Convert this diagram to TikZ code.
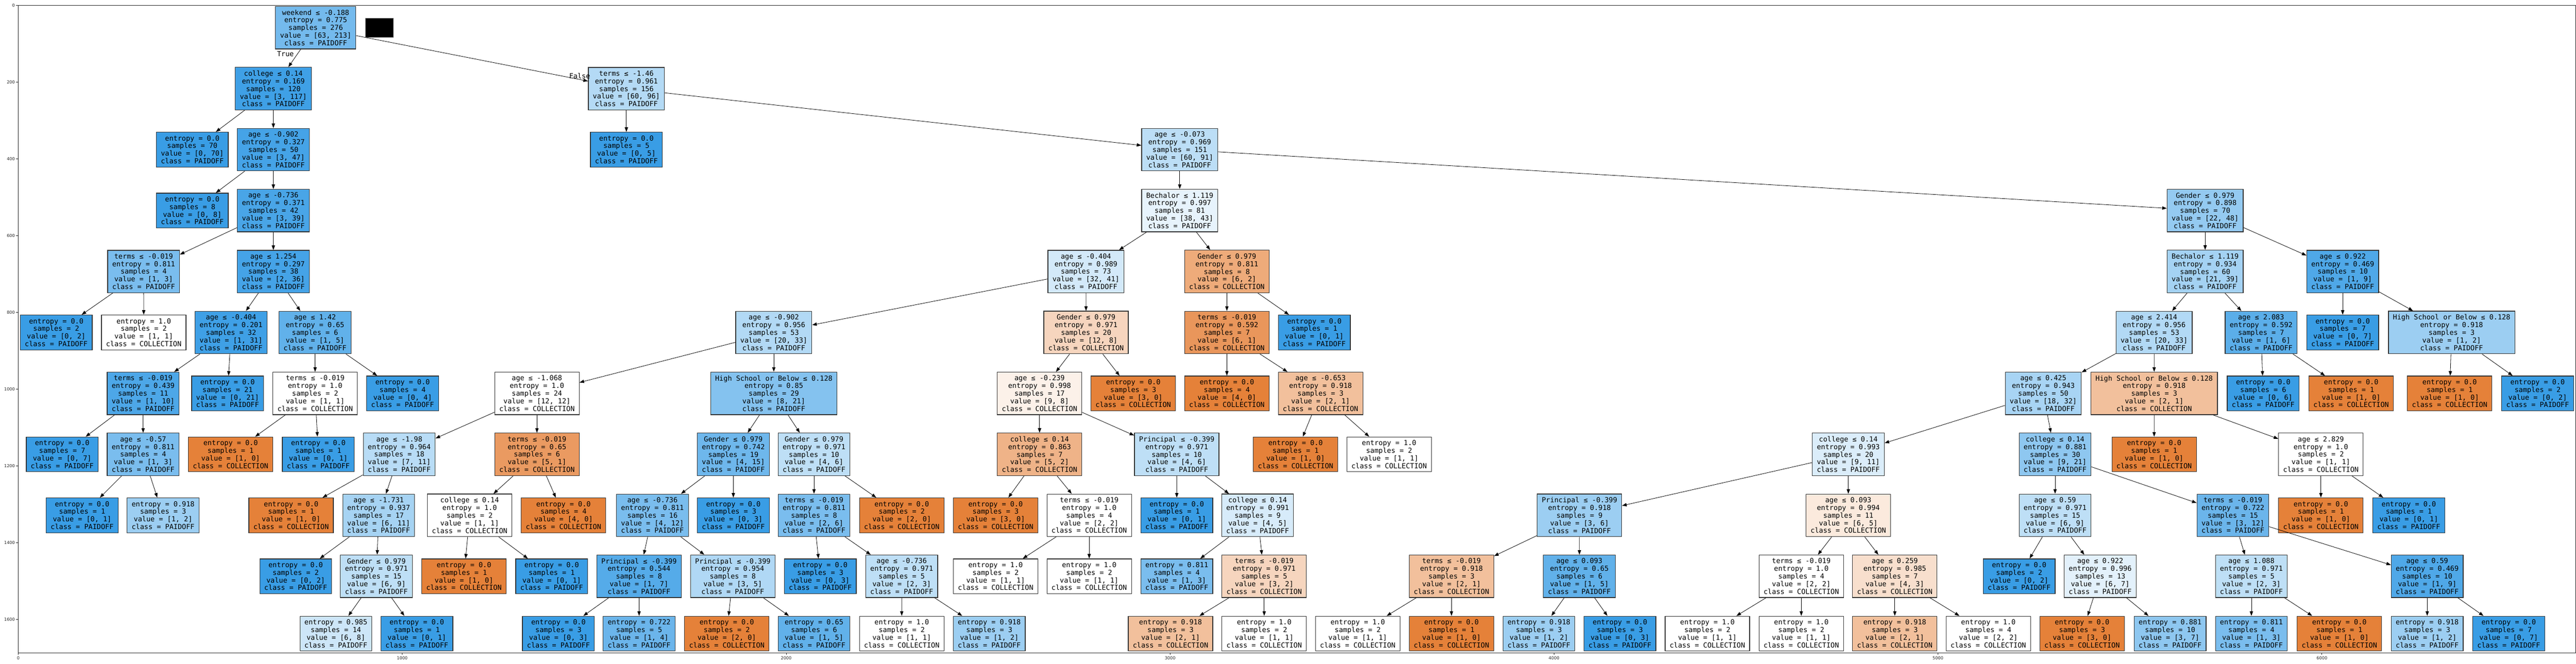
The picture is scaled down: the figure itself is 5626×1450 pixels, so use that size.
\documentclass[tikz,border=0pt]{standalone}
\usepackage{fontspec}
\setmonofont{DejaVu Sans Mono}
\setsansfont{DejaVu Sans}
\usetikzlibrary{arrows.meta}
\definecolor{paid}{RGB}{57,157,229}
\definecolor{coll}{RGB}{229,129,57}
\tikzset{
  cls/.code 2 args={%
    \ifnum#1>#2\relax
      \pgfmathtruncatemacro\tnpct{round(100*(#1-#2)/#1)}%
      \edef\tnfill{coll!\tnpct}%
    \else
      \pgfmathtruncatemacro\tnpct{round(100*(#2-#1)/#2)}%
      \edef\tnfill{paid!\tnpct}%
    \fi
    \pgfkeysalso{fill=\tnfill}}
}
\begin{document}
\begin{tikzpicture}[x=0.5pt, y=-0.5pt,
    dnode/.style={
      rectangle,
      draw=black!80,
      line width=0.7pt,
      align=center,
      font=\ttfamily\fontsize{7.6}{8.35}\selectfont,
      inner xsep=4.95pt,
      inner ysep=3.6pt},
    branch/.style={->, line width=0.45pt},
    lbl/.style={font=\ttfamily\fontsize{7.6}{8.35}\selectfont, inner sep=0pt},
    spine/.style={line width=0.5pt, black!85},
    ticklbl/.style={font=\sffamily\fontsize{4.6}{5}\selectfont, inner sep=1.2pt},
    >={Triangle[length=5pt,width=3.6pt]}
  ]
  \useasboundingbox (0,0) rectangle (5626,1450);
  % axes of the plot
  \begin{scope}[shift={(40,11.7)}, x=0.41925pt, y=-0.41925pt]
    \draw[spine] (0,0) rectangle (6660.7,1686.7);
    \foreach \v in {0,200,...,1600}
      \draw[spine] (0,\v) -- (-5.5,\v) node[ticklbl, left] (yt\v) {\v};
    \foreach \v in {0,1000,...,6000}
      \draw[spine] (\v,1686.7) -- (\v,1692.2) node[ticklbl, below] (xt\v) {\v};
  \end{scope}
  % the tree, one unit of y per depth
  \begin{scope}[shift={(0,60.5)}, y=-66.57pt]
    \node[fill=black, draw=black!60, minimum width=30.5pt, minimum height=20.5pt, inner sep=0pt] (blk) at (828.5,0) {};
    % depth 0
    \node[dnode, cls={63}{213}] (t0) at (689.5,0) {weekend ≤ -0.188\\entropy = 0.775\\samples = 276\\value = [63, 213]\\class = PAIDOFF};
    % depth 1
    \node[dnode, cls={3}{117}] (t1) at (597,1) {college ≤ 0.14\\entropy = 0.169\\samples = 120\\value = [3, 117]\\class = PAIDOFF};
    \node[dnode, cls={60}{96}] (t2) at (1368,1) {terms ≤ -1.46\\entropy = 0.961\\samples = 156\\value = [60, 96]\\class = PAIDOFF};
    % depth 2
    \node[dnode, cls={0}{70}] (t3) at (420,2) {entropy = 0.0\\samples = 70\\value = [0, 70]\\class = PAIDOFF};
    \node[dnode, cls={3}{47}] (t4) at (597,2) {age ≤ -0.902\\entropy = 0.327\\samples = 50\\value = [3, 47]\\class = PAIDOFF};
    \node[dnode, cls={0}{5}] (t5) at (1368,2) {entropy = 0.0\\samples = 5\\value = [0, 5]\\class = PAIDOFF};
    \node[dnode, cls={60}{91}] (t6) at (2576.5,2) {age ≤ -0.073\\entropy = 0.969\\samples = 151\\value = [60, 91]\\class = PAIDOFF};
    % depth 3
    \node[dnode, cls={0}{8}] (t7) at (420,3) {entropy = 0.0\\samples = 8\\value = [0, 8]\\class = PAIDOFF};
    \node[dnode, cls={3}{39}] (t8) at (597,3) {age ≤ -0.736\\entropy = 0.371\\samples = 42\\value = [3, 39]\\class = PAIDOFF};
    \node[dnode, cls={38}{43}] (t9) at (2576.5,3) {Bechalor ≤ 1.119\\entropy = 0.997\\samples = 81\\value = [38, 43]\\class = PAIDOFF};
    \node[dnode, cls={22}{48}] (t10) at (4816,3) {Gender ≤ 0.979\\entropy = 0.898\\samples = 70\\value = [22, 48]\\class = PAIDOFF};
    % depth 4
    \node[dnode, cls={1}{3}] (t11) at (313.7,4) {terms ≤ -0.019\\entropy = 0.811\\samples = 4\\value = [1, 3]\\class = PAIDOFF};
    \node[dnode, cls={2}{36}] (t12) at (597,4) {age ≤ 1.254\\entropy = 0.297\\samples = 38\\value = [2, 36]\\class = PAIDOFF};
    \node[dnode, cls={32}{41}] (t13) at (2371.7,4) {age ≤ -0.404\\entropy = 0.989\\samples = 73\\value = [32, 41]\\class = PAIDOFF};
    \node[dnode, cls={6}{2}] (t14) at (2679.5,4) {Gender ≤ 0.979\\entropy = 0.811\\samples = 8\\value = [6, 2]\\class = COLLECTION};
    \node[dnode, cls={21}{39}] (t15) at (4816,4) {Bechalor ≤ 1.119\\entropy = 0.934\\samples = 60\\value = [21, 39]\\class = PAIDOFF};
    \node[dnode, cls={1}{9}] (t16) at (5116.4,4) {age ≤ 0.922\\entropy = 0.469\\samples = 10\\value = [1, 9]\\class = PAIDOFF};
    % depth 5
    \node[dnode, cls={0}{2}] (t17) at (122.8,5) {entropy = 0.0\\samples = 2\\value = [0, 2]\\class = PAIDOFF};
    \node[dnode, cls={1}{1}] (t18) at (314,5) {entropy = 1.0\\samples = 2\\value = [1, 1]\\class = COLLECTION};
    \node[dnode, cls={1}{31}] (t19) at (504.6,5) {age ≤ -0.404\\entropy = 0.201\\samples = 32\\value = [1, 31]\\class = PAIDOFF};
    \node[dnode, cls={1}{5}] (t20) at (688,5) {age ≤ 1.42\\entropy = 0.65\\samples = 6\\value = [1, 5]\\class = PAIDOFF};
    \node[dnode, cls={20}{33}] (t21) at (1690,5) {age ≤ -0.902\\entropy = 0.956\\samples = 53\\value = [20, 33]\\class = PAIDOFF};
    \node[dnode, cls={12}{8}] (t22) at (2372,5) {Gender ≤ 0.979\\entropy = 0.971\\samples = 20\\value = [12, 8]\\class = COLLECTION};
    \node[dnode, cls={6}{1}] (t23) at (2679.5,5) {terms ≤ -0.019\\entropy = 0.592\\samples = 7\\value = [6, 1]\\class = COLLECTION};
    \node[dnode, cls={0}{1}] (t24) at (2870.5,5) {entropy = 0.0\\samples = 1\\value = [0, 1]\\class = PAIDOFF};
    \node[dnode, cls={20}{33}] (t25) at (4704.6,5) {age ≤ 2.414\\entropy = 0.956\\samples = 53\\value = [20, 33]\\class = PAIDOFF};
    \node[dnode, cls={1}{6}] (t26) at (4938.2,5) {age ≤ 2.083\\entropy = 0.592\\samples = 7\\value = [1, 6]\\class = PAIDOFF};
    \node[dnode, cls={0}{7}] (t27) at (5116.4,5) {entropy = 0.0\\samples = 7\\value = [0, 7]\\class = PAIDOFF};
    \node[dnode, cls={1}{2}] (t28) at (5354.3,5) {High School or Below ≤ 0.128\\entropy = 0.918\\samples = 3\\value = [1, 2]\\class = PAIDOFF};
    % depth 6
    \node[dnode, cls={1}{10}] (t29) at (312.6,6) {terms ≤ -0.019\\entropy = 0.439\\samples = 11\\value = [1, 10]\\class = PAIDOFF};
    \node[dnode, cls={0}{21}] (t30) at (497,6) {entropy = 0.0\\samples = 21\\value = [0, 21]\\class = PAIDOFF};
    \node[dnode, cls={1}{1}] (t31) at (688.3,6) {terms ≤ -0.019\\entropy = 1.0\\samples = 2\\value = [1, 1]\\class = COLLECTION};
    \node[dnode, cls={0}{4}] (t32) at (879.3,6) {entropy = 0.0\\samples = 4\\value = [0, 4]\\class = PAIDOFF};
    \node[dnode, cls={12}{12}] (t33) at (1172.7,6) {age ≤ -1.068\\entropy = 1.0\\samples = 24\\value = [12, 12]\\class = COLLECTION};
    \node[dnode, cls={8}{21}] (t34) at (1690,6) {High School or Below ≤ 0.128\\entropy = 0.85\\samples = 29\\value = [8, 21]\\class = PAIDOFF};
    \node[dnode, cls={9}{8}] (t35) at (2270.4,6) {age ≤ -0.239\\entropy = 0.998\\samples = 17\\value = [9, 8]\\class = COLLECTION};
    \node[dnode, cls={3}{0}] (t36) at (2475,6) {entropy = 0.0\\samples = 3\\value = [3, 0]\\class = COLLECTION};
    \node[dnode, cls={4}{0}] (t37) at (2679.5,6) {entropy = 0.0\\samples = 4\\value = [4, 0]\\class = COLLECTION};
    \node[dnode, cls={2}{1}] (t38) at (2884,6) {age ≤ -0.653\\entropy = 0.918\\samples = 3\\value = [2, 1]\\class = COLLECTION};
    \node[dnode, cls={18}{32}] (t39) at (4462.5,6) {age ≤ 0.425\\entropy = 0.943\\samples = 50\\value = [18, 32]\\class = PAIDOFF};
    \node[dnode, cls={2}{1}] (t40) at (4704.7,6) {High School or Below ≤ 0.128\\entropy = 0.918\\samples = 3\\value = [2, 1]\\class = COLLECTION};
    \node[dnode, cls={0}{6}] (t41) at (4942.8,6) {entropy = 0.0\\samples = 6\\value = [0, 6]\\class = PAIDOFF};
    \node[dnode, cls={1}{0}] (t42) at (5134.9,6) {entropy = 0.0\\samples = 1\\value = [1, 0]\\class = COLLECTION};
    \node[dnode, cls={1}{0}] (t43) at (5350,6) {entropy = 0.0\\samples = 1\\value = [1, 0]\\class = COLLECTION};
    \node[dnode, cls={0}{2}] (t44) at (5542.1,6) {entropy = 0.0\\samples = 2\\value = [0, 2]\\class = PAIDOFF};
    % depth 7
    \node[dnode, cls={0}{7}] (t45) at (135.8,7) {entropy = 0.0\\samples = 7\\value = [0, 7]\\class = PAIDOFF};
    \node[dnode, cls={1}{3}] (t46) at (312.6,7) {age ≤ -0.57\\entropy = 0.811\\samples = 4\\value = [1, 3]\\class = PAIDOFF};
    \node[dnode, cls={1}{0}] (t47) at (503.7,7) {entropy = 0.0\\samples = 1\\value = [1, 0]\\class = COLLECTION};
    \node[dnode, cls={0}{1}] (t48) at (695.2,7) {entropy = 0.0\\samples = 1\\value = [0, 1]\\class = PAIDOFF};
    \node[dnode, cls={7}{11}] (t49) at (872,7) {age ≤ -1.98\\entropy = 0.964\\samples = 18\\value = [7, 11]\\class = PAIDOFF};
    \node[dnode, cls={5}{1}] (t50) at (1172.7,7) {terms ≤ -0.019\\entropy = 0.65\\samples = 6\\value = [5, 1]\\class = COLLECTION};
    \node[dnode, cls={4}{15}] (t51) at (1601.6,7) {Gender ≤ 0.979\\entropy = 0.742\\samples = 19\\value = [4, 15]\\class = PAIDOFF};
    \node[dnode, cls={4}{6}] (t52) at (1777.8,7) {Gender ≤ 0.979\\entropy = 0.971\\samples = 10\\value = [4, 6]\\class = PAIDOFF};
    \node[dnode, cls={5}{2}] (t53) at (2270.4,7) {college ≤ 0.14\\entropy = 0.863\\samples = 7\\value = [5, 2]\\class = COLLECTION};
    \node[dnode, cls={4}{6}] (t54) at (2570,7) {Principal ≤ -0.399\\entropy = 0.971\\samples = 10\\value = [4, 6]\\class = PAIDOFF};
    \node[dnode, cls={1}{0}] (t55) at (2829.5,7) {entropy = 0.0\\samples = 1\\value = [1, 0]\\class = COLLECTION};
    \node[dnode, cls={1}{1}] (t56) at (3033.8,7) {entropy = 1.0\\samples = 2\\value = [1, 1]\\class = COLLECTION};
    \node[dnode, cls={9}{11}] (t57) at (4036.7,7) {college ≤ 0.14\\entropy = 0.993\\samples = 20\\value = [9, 11]\\class = PAIDOFF};
    \node[dnode, cls={9}{21}] (t58) at (4488.3,7) {college ≤ 0.14\\entropy = 0.881\\samples = 30\\value = [9, 21]\\class = PAIDOFF};
    \node[dnode, cls={1}{0}] (t59) at (4704.6,7) {entropy = 0.0\\samples = 1\\value = [1, 0]\\class = COLLECTION};
    \node[dnode, cls={1}{1}] (t60) at (5068.8,7) {age ≤ 2.829\\entropy = 1.0\\samples = 2\\value = [1, 1]\\class = COLLECTION};
    % depth 8
    \node[dnode, cls={0}{1}] (t61) at (179.4,8) {entropy = 0.0\\samples = 1\\value = [0, 1]\\class = PAIDOFF};
    \node[dnode, cls={1}{2}] (t62) at (356.2,8) {entropy = 0.918\\samples = 3\\value = [1, 2]\\class = PAIDOFF};
    \node[dnode, cls={1}{0}] (t63) at (635.8,8) {entropy = 0.0\\samples = 1\\value = [1, 0]\\class = COLLECTION};
    \node[dnode, cls={6}{11}] (t64) at (827,8) {age ≤ -1.731\\entropy = 0.937\\samples = 17\\value = [6, 11]\\class = PAIDOFF};
    \node[dnode, cls={1}{1}] (t65) at (1025.7,8) {college ≤ 0.14\\entropy = 1.0\\samples = 2\\value = [1, 1]\\class = COLLECTION};
    \node[dnode, cls={4}{0}] (t66) at (1230.7,8) {entropy = 0.0\\samples = 4\\value = [4, 0]\\class = COLLECTION};
    \node[dnode, cls={4}{12}] (t67) at (1424.9,8) {age ≤ -0.736\\entropy = 0.811\\samples = 16\\value = [4, 12]\\class = PAIDOFF};
    \node[dnode, cls={0}{3}] (t68) at (1601.6,8) {entropy = 0.0\\samples = 3\\value = [0, 3]\\class = PAIDOFF};
    \node[dnode, cls={2}{6}] (t69) at (1777.8,8) {terms ≤ -0.019\\entropy = 0.811\\samples = 8\\value = [2, 6]\\class = PAIDOFF};
    \node[dnode, cls={2}{0}] (t70) at (1969.4,8) {entropy = 0.0\\samples = 2\\value = [2, 0]\\class = COLLECTION};
    \node[dnode, cls={3}{0}] (t71) at (2174.4,8) {entropy = 0.0\\samples = 3\\value = [3, 0]\\class = COLLECTION};
    \node[dnode, cls={2}{2}] (t72) at (2378.8,8) {terms ≤ -0.019\\entropy = 1.0\\samples = 4\\value = [2, 2]\\class = COLLECTION};
    \node[dnode, cls={0}{1}] (t73) at (2570.1,8) {entropy = 0.0\\samples = 1\\value = [0, 1]\\class = PAIDOFF};
    \node[dnode, cls={4}{5}] (t74) at (2746.6,8) {college ≤ 0.14\\entropy = 0.991\\samples = 9\\value = [4, 5]\\class = PAIDOFF};
    \node[dnode, cls={3}{6}] (t75) at (3449.6,8) {Principal ≤ -0.399\\entropy = 0.918\\samples = 9\\value = [3, 6]\\class = PAIDOFF};
    \node[dnode, cls={6}{5}] (t76) at (4036.7,8) {age ≤ 0.093\\entropy = 0.994\\samples = 11\\value = [6, 5]\\class = COLLECTION};
    \node[dnode, cls={6}{9}] (t77) at (4488.3,8) {age ≤ 0.59\\entropy = 0.971\\samples = 15\\value = [6, 9]\\class = PAIDOFF};
    \node[dnode, cls={3}{12}] (t78) at (4876.6,8) {terms ≤ -0.019\\entropy = 0.722\\samples = 15\\value = [3, 12]\\class = PAIDOFF};
    \node[dnode, cls={1}{0}] (t79) at (5068.8,8) {entropy = 0.0\\samples = 1\\value = [1, 0]\\class = COLLECTION};
    \node[dnode, cls={0}{1}] (t80) at (5260.8,8) {entropy = 0.0\\samples = 1\\value = [0, 1]\\class = PAIDOFF};
    % depth 9
    \node[dnode, cls={0}{2}] (t81) at (645.8,9) {entropy = 0.0\\samples = 2\\value = [0, 2]\\class = PAIDOFF};
    \node[dnode, cls={6}{9}] (t82) at (822,9) {Gender ≤ 0.979\\entropy = 0.971\\samples = 15\\value = [6, 9]\\class = PAIDOFF};
    \node[dnode, cls={1}{0}] (t83) at (1013.3,9) {entropy = 0.0\\samples = 1\\value = [1, 0]\\class = COLLECTION};
    \node[dnode, cls={0}{1}] (t84) at (1204.9,9) {entropy = 0.0\\samples = 1\\value = [0, 1]\\class = PAIDOFF};
    \node[dnode, cls={1}{7}] (t85) at (1395.6,9) {Principal ≤ -0.399\\entropy = 0.544\\samples = 8\\value = [1, 7]\\class = PAIDOFF};
    \node[dnode, cls={3}{5}] (t86) at (1600.4,9) {Principal ≤ -0.399\\entropy = 0.954\\samples = 8\\value = [3, 5]\\class = PAIDOFF};
    \node[dnode, cls={0}{3}] (t87) at (1791.5,9) {entropy = 0.0\\samples = 3\\value = [0, 3]\\class = PAIDOFF};
    \node[dnode, cls={2}{3}] (t88) at (1969.3,9) {age ≤ -0.736\\entropy = 0.971\\samples = 5\\value = [2, 3]\\class = PAIDOFF};
    \node[dnode, cls={1}{1}] (t89) at (2174.4,9) {entropy = 1.0\\samples = 2\\value = [1, 1]\\class = COLLECTION};
    \node[dnode, cls={1}{1}] (t90) at (2378.8,9) {entropy = 1.0\\samples = 2\\value = [1, 1]\\class = COLLECTION};
    \node[dnode, cls={1}{3}] (t91) at (2570.1,9) {entropy = 0.811\\samples = 4\\value = [1, 3]\\class = PAIDOFF};
    \node[dnode, cls={3}{2}] (t92) at (2761,9) {terms ≤ -0.019\\entropy = 0.971\\samples = 5\\value = [3, 2]\\class = COLLECTION};
    \node[dnode, cls={2}{1}] (t93) at (3170,9) {terms ≤ -0.019\\entropy = 0.918\\samples = 3\\value = [2, 1]\\class = COLLECTION};
    \node[dnode, cls={1}{5}] (t94) at (3449.3,9) {age ≤ 0.093\\entropy = 0.65\\samples = 6\\value = [1, 5]\\class = PAIDOFF};
    \node[dnode, cls={2}{2}] (t95) at (3934,9) {terms ≤ -0.019\\entropy = 1.0\\samples = 4\\value = [2, 2]\\class = COLLECTION};
    \node[dnode, cls={4}{3}] (t96) at (4138.2,9) {age ≤ 0.259\\entropy = 0.985\\samples = 7\\value = [4, 3]\\class = COLLECTION};
    \node[dnode, cls={0}{2}] (t97) at (4409.8,9) {entropy = 0.0\\samples = 2\\value = [0, 2]\\class = PAIDOFF};
    \node[dnode, cls={6}{7}] (t98) at (4586.8,9) {age ≤ 0.922\\entropy = 0.996\\samples = 13\\value = [6, 7]\\class = PAIDOFF};
    \node[dnode, cls={2}{3}] (t99) at (4917,9) {age ≤ 1.088\\entropy = 0.971\\samples = 5\\value = [2, 3]\\class = PAIDOFF};
    \node[dnode, cls={1}{9}] (t100) at (5301,9) {age ≤ 0.59\\entropy = 0.469\\samples = 10\\value = [1, 9]\\class = PAIDOFF};
    % depth 10 (leaves only, a little closer)
    \node[dnode, cls={6}{8}] (t101) at (733.6,9.94) {entropy = 0.985\\samples = 14\\value = [6, 8]\\class = PAIDOFF};
    \node[dnode, cls={0}{1}] (t102) at (910.4,9.94) {entropy = 0.0\\samples = 1\\value = [0, 1]\\class = PAIDOFF};
    \node[dnode, cls={0}{3}] (t103) at (1219.6,9.94) {entropy = 0.0\\samples = 3\\value = [0, 3]\\class = PAIDOFF};
    \node[dnode, cls={1}{4}] (t104) at (1395.9,9.94) {entropy = 0.722\\samples = 5\\value = [1, 4]\\class = PAIDOFF};
    \node[dnode, cls={2}{0}] (t105) at (1587.3,9.94) {entropy = 0.0\\samples = 2\\value = [2, 0]\\class = COLLECTION};
    \node[dnode, cls={1}{5}] (t106) at (1777.8,9.94) {entropy = 0.65\\samples = 6\\value = [1, 5]\\class = PAIDOFF};
    \node[dnode, cls={1}{1}] (t107) at (1969.4,9.94) {entropy = 1.0\\samples = 2\\value = [1, 1]\\class = COLLECTION};
    \node[dnode, cls={1}{2}] (t108) at (2160.6,9.94) {entropy = 0.918\\samples = 3\\value = [1, 2]\\class = PAIDOFF};
    \node[dnode, cls={2}{1}] (t109) at (2556.4,9.94) {entropy = 0.918\\samples = 3\\value = [2, 1]\\class = COLLECTION};
    \node[dnode, cls={1}{1}] (t110) at (2761,9.94) {entropy = 1.0\\samples = 2\\value = [1, 1]\\class = COLLECTION};
    \node[dnode, cls={1}{1}] (t111) at (2965.3,9.94) {entropy = 1.0\\samples = 2\\value = [1, 1]\\class = COLLECTION};
    \node[dnode, cls={1}{0}] (t112) at (3170,9.94) {entropy = 0.0\\samples = 1\\value = [1, 0]\\class = COLLECTION};
    \node[dnode, cls={1}{2}] (t113) at (3361,9.94) {entropy = 0.918\\samples = 3\\value = [1, 2]\\class = PAIDOFF};
    \node[dnode, cls={0}{3}] (t114) at (3537.9,9.94) {entropy = 0.0\\samples = 3\\value = [0, 3]\\class = PAIDOFF};
    \node[dnode, cls={1}{1}] (t115) at (3728.9,9.94) {entropy = 1.0\\samples = 2\\value = [1, 1]\\class = COLLECTION};
    \node[dnode, cls={1}{1}] (t116) at (3934,9.94) {entropy = 1.0\\samples = 2\\value = [1, 1]\\class = COLLECTION};
    \node[dnode, cls={2}{1}] (t117) at (4138.2,9.94) {entropy = 0.918\\samples = 3\\value = [2, 1]\\class = COLLECTION};
    \node[dnode, cls={2}{2}] (t118) at (4342.5,9.94) {entropy = 1.0\\samples = 4\\value = [2, 2]\\class = COLLECTION};
    \node[dnode, cls={3}{0}] (t119) at (4547.2,9.94) {entropy = 0.0\\samples = 3\\value = [3, 0]\\class = COLLECTION};
    \node[dnode, cls={3}{7}] (t120) at (4739.5,9.94) {entropy = 0.881\\samples = 10\\value = [3, 7]\\class = PAIDOFF};
    \node[dnode, cls={1}{3}] (t121) at (4917,9.94) {entropy = 0.811\\samples = 4\\value = [1, 3]\\class = PAIDOFF};
    \node[dnode, cls={1}{0}] (t122) at (5109.2,9.94) {entropy = 0.0\\samples = 1\\value = [1, 0]\\class = COLLECTION};
    \node[dnode, cls={1}{2}] (t123) at (5301,9.94) {entropy = 0.918\\samples = 3\\value = [1, 2]\\class = PAIDOFF};
    \node[dnode, cls={0}{7}] (t124) at (5479,9.94) {entropy = 0.0\\samples = 7\\value = [0, 7]\\class = PAIDOFF};
    % branches
    \foreach \a/\b in {t0/t1, t0/t2, t1/t3, t1/t4, t2/t5, t2/t6, t4/t7, t4/t8,
        t6/t9, t6/t10, t8/t11, t8/t12, t9/t13, t9/t14, t10/t15, t10/t16,
        t11/t17, t11/t18, t12/t19, t12/t20, t13/t21, t13/t22, t14/t23, t14/t24,
        t15/t25, t15/t26, t16/t27, t16/t28, t19/t29, t19/t30, t20/t31, t20/t32,
        t21/t33, t21/t34, t22/t35, t22/t36, t23/t37, t23/t38, t25/t39, t25/t40,
        t26/t41, t26/t42, t28/t43, t28/t44, t29/t45, t29/t46, t31/t47, t31/t48,
        t33/t49, t33/t50, t34/t51, t34/t52, t35/t53, t35/t54, t38/t55, t38/t56,
        t39/t57, t39/t58, t40/t59, t40/t60, t46/t61, t46/t62, t49/t63, t49/t64,
        t50/t65, t50/t66, t51/t67, t51/t68, t52/t69, t52/t70, t53/t71, t53/t72,
        t54/t73, t54/t74, t57/t75, t57/t76, t58/t77, t58/t78, t60/t79, t60/t80,
        t64/t81, t64/t82, t65/t83, t65/t84, t67/t85, t67/t86, t69/t87, t69/t88,
        t72/t89, t72/t90, t74/t91, t74/t92, t75/t93, t75/t94, t76/t95, t76/t96,
        t77/t97, t77/t98, t78/t99, t78/t100, t82/t101, t82/t102, t85/t103, t85/t104,
        t86/t105, t86/t106, t88/t107, t88/t108, t92/t109, t92/t110, t93/t111, t93/t112,
        t94/t113, t94/t114, t95/t115, t95/t116, t96/t117, t96/t118, t98/t119, t98/t120,
        t99/t121, t99/t122, t100/t123, t100/t124}
      \draw[branch] (\a) -- (\b);
    \node[lbl] (tl) at (623.4,0.432) {True};
    \node[lbl] (fl) at (1266,0.7925) {False};
  \end{scope}
\end{tikzpicture}
\end{document}
